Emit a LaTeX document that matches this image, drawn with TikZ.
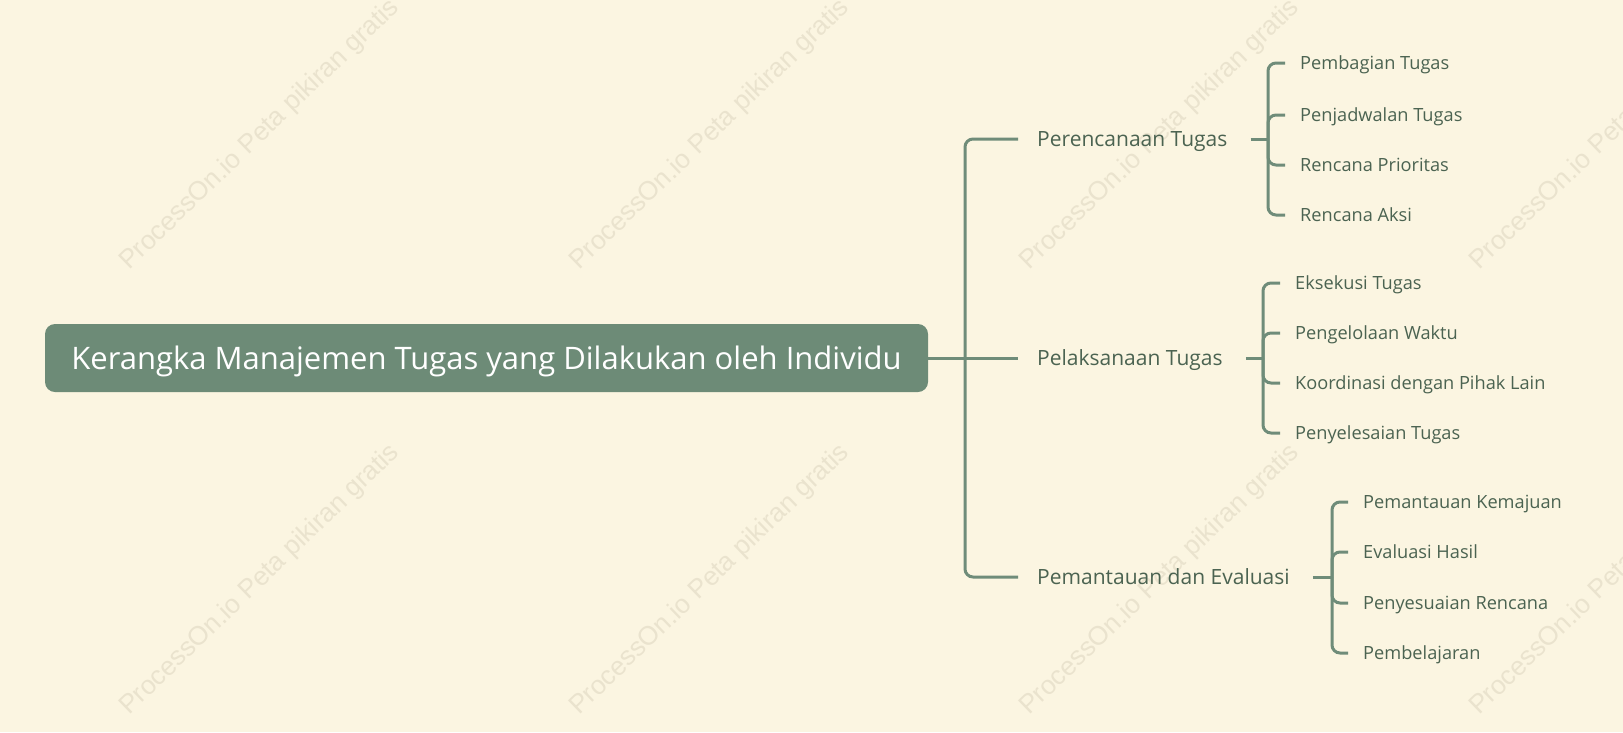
\documentclass[tikz,border=0pt]{standalone}
\usepackage{fontspec}
\setmainfont{Open Sans}
\newfontfamily\wmfont{Liberation Sans}
\definecolor{bg}{HTML}{FBF5E1}
\definecolor{rootfill}{HTML}{6D8B77}
\definecolor{lnk}{HTML}{6F8C79}
\definecolor{txt}{HTML}{4B6351}
\definecolor{wm}{HTML}{EAE3CE}
\begin{document}
\begin{tikzpicture}[x=1pt,y=-1pt,
  rootbox/.style={rectangle,rounded corners=10pt,fill=rootfill,text=white,
    minimum width=883pt,minimum height=68pt,inner sep=0pt,
    text height=22.3pt,text depth=0pt,
    font=\fontsize{31}{34}\selectfont},
  topic/.style={anchor=west,inner xsep=19pt,inner ysep=0pt,text=txt,
    text height=15.1pt,text depth=0pt,
    font=\fontsize{21}{25}\selectfont},
  leaf/.style={anchor=west,inner xsep=15pt,inner ysep=0pt,text=txt,
    text height=13.1pt,text depth=0pt,
    font=\fontsize{18.2}{21}\selectfont},
  link/.style={draw=lnk,line width=3pt},
  elbow/.style={link,rounded corners=8pt},
  wmark/.style={text=wm,rotate=44,font=\wmfont\fontsize{26.4}{30}\selectfont}]
\fill[bg] (0,0) rectangle (1623,732);
\useasboundingbox (0,0) rectangle (1623,732);
% watermarks
\foreach \wx in {260,710,1160,1610}{
  \foreach \wy in {135,580}{
    \node[wmark] at (\wx,\wy) {ProcessOn.io Peta pikiran gratis};
  }
}
% root
\node[rootbox] (root) at (486.5,358) {Kerangka Manajemen Tugas yang Dilakukan oleh Individu};
\coordinate (J) at (965,358);
% topics
\node[topic] (t1) at (1018,139) {Perencanaan Tugas};
\node[topic] (t2) at (1018,358) {Pelaksanaan Tugas};
\node[topic] (t3) at (1018,577) {Pemantauan dan Evaluasi};
\draw[link] (root.east) -- (J);
\draw[elbow] (J) |- (t1.west);
\draw[link] (J) -- (t2.west);
\draw[elbow] (J) |- (t3.west);
% group 1
\coordinate (b1) at (1268,139);
\node[leaf] (l11) at (1285,63) {Pembagian Tugas};
\node[leaf] (l12) at (1285,115) {Penjadwalan Tugas};
\node[leaf] (l13) at (1285,165) {Rencana Prioritas};
\node[leaf] (l14) at (1285,215) {Rencana Aksi};
\draw[link] ([xshift=4pt]t1.east) -- (b1);
\foreach \l in {l11,l12,l13,l14}{\draw[elbow] (b1) |- (\l.west);}
% group 2
\coordinate (b2) at (1263,358);
\node[leaf] (l21) at (1280,283) {Eksekusi Tugas};
\node[leaf] (l22) at (1280,333) {Pengelolaan Waktu};
\node[leaf] (l23) at (1280,383) {Koordinasi dengan Pihak Lain};
\node[leaf] (l24) at (1280,433) {Penyelesaian Tugas};
\draw[link] ([xshift=4pt]t2.east) -- (b2);
\foreach \l in {l21,l22,l23,l24}{\draw[elbow] (b2) |- (\l.west);}
% group 3
\coordinate (b3) at (1332,577);
\node[leaf] (l31) at (1348,502) {Pemantauan Kemajuan};
\node[leaf] (l32) at (1348,552) {Evaluasi Hasil};
\node[leaf] (l33) at (1348,603) {Penyesuaian Rencana};
\node[leaf] (l34) at (1348,653) {Pembelajaran};
\draw[link] ([xshift=4pt]t3.east) -- (b3);
\foreach \l in {l31,l32,l33,l34}{\draw[elbow] (b3) |- (\l.west);}
\end{tikzpicture}
\end{document}
